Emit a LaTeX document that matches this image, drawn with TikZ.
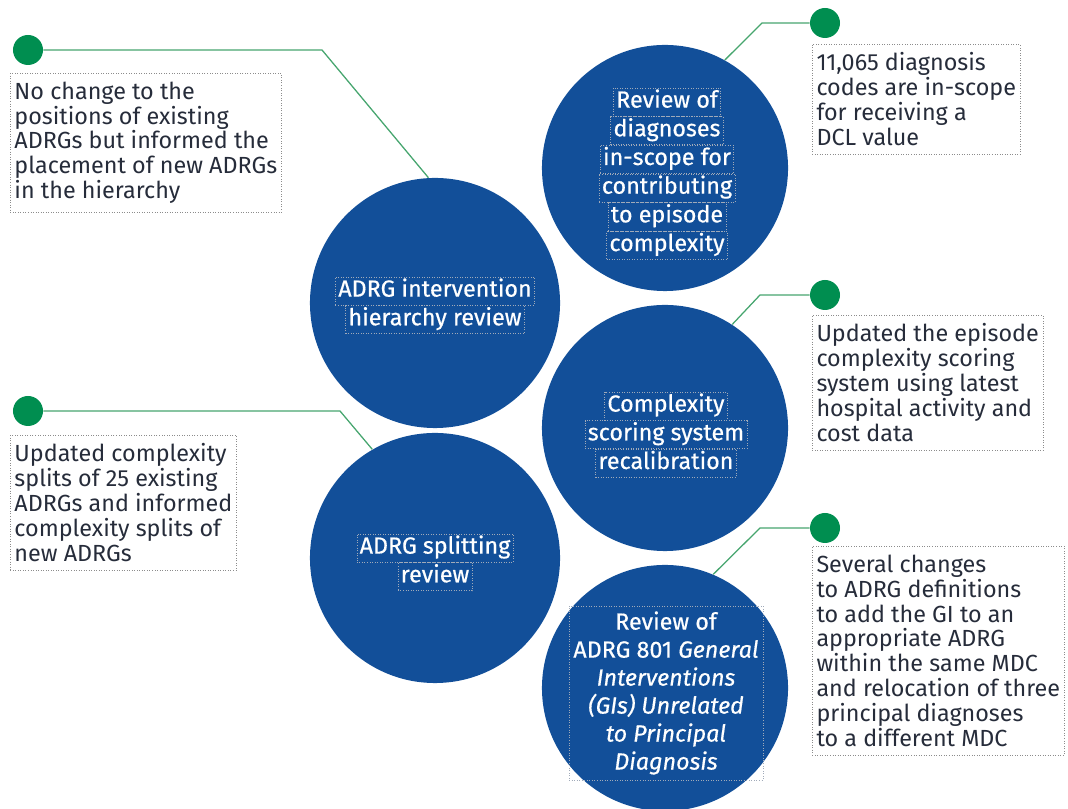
\documentclass[tikz,border=0pt]{standalone}
\usepackage{fontspec}
\setmainfont{Fira Sans}
\newfontfamily\circlefont[FakeBold=0.5]{Fira Sans}
\usetikzlibrary{positioning}

\definecolor{adrgblue}{RGB}{18,79,153}
\definecolor{pingreen}{RGB}{0,142,80}
\definecolor{leadgreen}{RGB}{70,165,110}
\definecolor{inkgray}{RGB}{38,44,58}
\definecolor{boxgray}{RGB}{140,140,140}
\definecolor{tagline}{RGB}{160,170,185}

\begin{document}
\begin{tikzpicture}[x=0.025cm,y=0.025cm,semithick,font=\fontsize{16.6}{17.7}\selectfont]
        \tikzstyle{review}=[circle,fill=adrgblue,inner sep=0pt,minimum size=6.15cm]
        \tikzstyle{pin}=[circle,fill=pingreen,inner sep=0pt,minimum size=0.75cm]
        \tikzstyle{lead}=[draw=leadgreen,line width=0.9pt]
        \tikzstyle{note}=[draw=boxgray,dash pattern=on 0.6pt off 1.2pt,line width=0.4pt,
                          text=inkgray,align=left,anchor=north west,inner xsep=3pt,inner ysep=6pt]
        \tikzstyle{tag}=[draw=tagline,dash pattern=on 0.6pt off 1.2pt,line width=0.4pt,
                         text=white,font=\circlefont\fontsize{16.6}{19.9}\selectfont,
                         inner xsep=2pt,inner ysep=1.5pt,text height=12.5pt,text depth=4.5pt]

        \useasboundingbox (0,0) rectangle (1068,809);

        % the five reviews
        \node[review,minimum size=6.25cm] (hier)  at (435,506) {};
        \node[review]                     (diag)  at (665,641) {};
        \node[review]                     (recal) at (665,381) {};
        \node[review,minimum size=6.25cm] (split) at (435,251) {};
        \node[review]                     (gen)   at (665,121) {};

        \node[tag] (hier1) at (435,518)     {ADRG intervention};
        \node[tag] (hier2) [below=0pt of hier1] {hierarchy review};

        \node[tag] (diag1) at (667,707)     {Review of};
        \node[tag] (diag2) [below=0pt of diag1] {diagnoses};
        \node[tag] (diag3) [below=0pt of diag2] {in-scope for};
        \node[tag] (diag4) [below=0pt of diag3] {contributing};
        \node[tag] (diag5) [below=0pt of diag4] {to episode};
        \node[tag] (diag6) [below=0pt of diag5] {complexity};

        \node[tag] (recal1) at (666,403)      {Complexity};
        \node[tag] (recal2) [below=0pt of recal1] {scoring system};
        \node[tag] (recal3) [below=0pt of recal2] {recalibration};

        \node[tag] (split1) at (435,261)      {ADRG splitting};
        \node[tag] (split2) [below=0pt of split1] {review};

        \node[tag,align=center,inner xsep=3pt,inner ysep=4pt,text height=,text depth=] (gen1) at (666,116)
              {Review of\\ADRG 801 \textit{General}\\\textit{Interventions}\\\textit{(GIs) Unrelated}\\
               \textit{to Principal}\\\textit{Diagnosis}};

        % leads from the pins
        \coordinate (hierbend)  at (322,759);
        \coordinate (diagbend)  at (762,786);
        \coordinate (recalbend) at (760,514);
        \coordinate (splitbend) at (340,398);
        \coordinate (genbend)   at (760,281);

        \node[pin] (hierpin)  at (28,759)  {};
        \node[pin] (diagpin)  at (825,786) {};
        \node[pin] (recalpin) at (825,514) {};
        \node[pin] (splitpin) at (28,398)  {};
        \node[pin] (genpin)   at (825,281) {};

        \draw[lead] (hierpin)  -- (hierbend)  -- (hier.93);
        \draw[lead] (diagpin)  -- (diagbend)  -- (diag.61);
        \draw[lead] (recalpin) -- (recalbend) -- (recal.57);
        \draw[lead] (splitpin) -- (splitbend) -- (split.120);
        \draw[lead] (genpin)   -- (genbend)   -- (gen.67);

        % what each review changed
        \node[note] (hiernote) at (10,736)
              {No change to the\\positions of existing\\ADRGs but informed the\\placement of new ADRGs\\in the hierarchy};
        \node[note] (diagnote) at (812,765)
              {11,065 diagnosis\\codes are in-scope\\for receiving a\\DCL value};
        \node[note] (recalnote) at (812,494)
              {Updated the episode\\complexity scoring\\system using latest\\hospital activity and\\cost data};
        \node[note] (splitnote) at (10,374)
              {Updated complexity\\splits of 25 existing\\ADRGs and informed\\complexity splits of\\new ADRGs};
        \node[note] (gennote) at (812,263)
              {Several changes\\to ADRG definitions\\to add the GI to an\\appropriate ADRG\\within the same MDC\\and relocation of three\\principal diagnoses\\to a different MDC};
\end{tikzpicture}
\end{document}
